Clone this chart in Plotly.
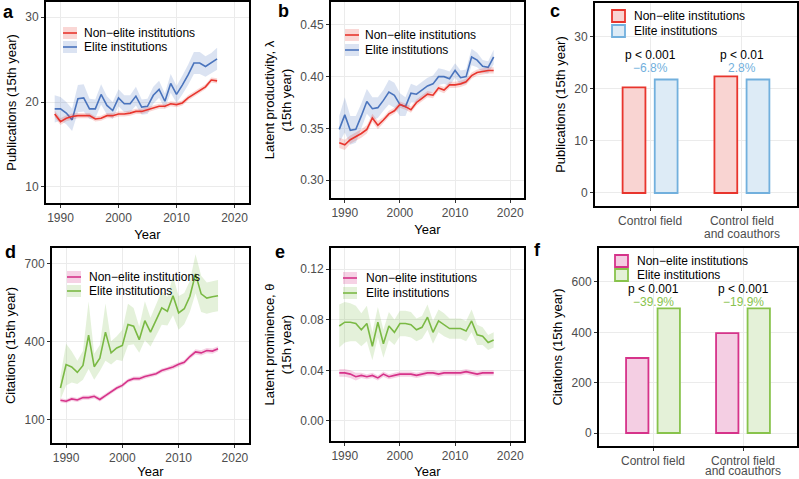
import plotly.graph_objects as go

W, H = 799, 479

years = list(range(1989, 2018))

# panel a: publications (15th year)
pub_nonelite = [18.6, 17.7, 18.1, 18.3, 18.4, 18.4, 18.4, 18.0, 18.1, 18.4, 18.4, 18.6, 18.6, 18.7, 18.9,
                18.9, 19.1, 19.3, 19.5, 19.5, 19.8, 19.7, 19.9, 20.5, 20.9, 21.3, 21.8, 22.6, 22.5]
pub_nonelite_ci = [0.4, 0.4, 0.35, 0.35, 0.3, 0.3, 0.3, 0.3, 0.3, 0.3, 0.3, 0.3, 0.3, 0.3, 0.3,
                   0.3, 0.3, 0.3, 0.3, 0.3, 0.3, 0.3, 0.3, 0.3, 0.3, 0.3, 0.3, 0.3, 0.3]
pub_elite = [19.2, 19.2, 18.7, 17.9, 20.4, 20.5, 19.2, 19.2, 20.9, 19.6, 19.0, 20.5, 19.8, 19.8, 20.7,
             19.4, 19.5, 20.8, 21.5, 20.1, 22.2, 20.9, 22.0, 23.2, 24.6, 24.6, 24.2, 24.6, 25.1]
pub_elite_ci = [1.6, 1.4, 1.3, 1.3, 1.6, 1.6, 1.2, 1.1, 1.2, 1.1, 1.0, 1.0, 1.0, 1.0, 1.1,
                0.9, 0.9, 1.0, 1.0, 0.9, 1.1, 1.0, 1.1, 1.2, 1.3, 1.3, 1.2, 1.2, 1.3]

# panel b: latent productivity
lam_nonelite = [0.336, 0.334, 0.339, 0.342, 0.345, 0.349, 0.360, 0.353, 0.358, 0.364, 0.367, 0.373, 0.371,
                0.368, 0.375, 0.379, 0.383, 0.382, 0.389, 0.387, 0.392, 0.392, 0.393, 0.395, 0.401, 0.404,
                0.405, 0.406, 0.406]
lam_nonelite_ci = [0.005, 0.005, 0.004, 0.004, 0.004, 0.004, 0.004, 0.004, 0.003, 0.003, 0.003, 0.003, 0.003,
                   0.003, 0.003, 0.003, 0.003, 0.003, 0.003, 0.003, 0.003, 0.003, 0.003, 0.003, 0.003, 0.003,
                   0.003, 0.003, 0.003]
lam_elite = [0.349, 0.363, 0.348, 0.349, 0.362, 0.376, 0.369, 0.370, 0.377, 0.385, 0.382, 0.373, 0.371,
             0.384, 0.383, 0.387, 0.391, 0.393, 0.400, 0.400, 0.398, 0.406, 0.399, 0.400, 0.419, 0.416,
             0.410, 0.409, 0.419]
lam_elite_ci = [0.013, 0.017, 0.014, 0.013, 0.012, 0.012, 0.011, 0.010, 0.010, 0.012, 0.012, 0.011, 0.009,
                0.009, 0.008, 0.008, 0.008, 0.008, 0.008, 0.007, 0.007, 0.007, 0.007, 0.007, 0.008, 0.007,
                0.006, 0.006, 0.007]

# panel d: citations (15th year)
cit_nonelite = [176, 172, 181, 177, 186, 186, 191, 179, 194, 210, 223, 233, 251, 259, 259,
                267, 272, 278, 290, 296, 304, 314, 322, 344, 362, 358, 367, 365, 374]
cit_nonelite_ci = [8, 8, 8, 8, 8, 8, 8, 8, 8, 8, 8, 8, 8, 8, 8,
                   8, 8, 8, 8, 8, 9, 9, 9, 9, 10, 10, 10, 10, 10]
cit_elite = [223, 313, 304, 283, 310, 426, 305, 338, 438, 358, 377, 387, 467, 461, 409,
             482, 438, 482, 531, 518, 578, 512, 528, 576, 662, 585, 569, 574, 578]
cit_elite_ci = [45, 80, 60, 45, 55, 130, 50, 50, 110, 45, 45, 60, 80, 70, 50,
                75, 55, 60, 65, 55, 75, 65, 60, 60, 75, 70, 60, 60, 60]

# panel e: latent prominence
th_nonelite = [0.038, 0.038, 0.037, 0.035, 0.036, 0.035, 0.036, 0.034, 0.037, 0.035, 0.036, 0.037, 0.037,
               0.037, 0.036, 0.037, 0.038, 0.038, 0.037, 0.038, 0.038, 0.038, 0.038, 0.039, 0.038, 0.037,
               0.038, 0.038, 0.038]
th_nonelite_ci = [0.003, 0.003, 0.003, 0.003, 0.002, 0.002, 0.002, 0.002, 0.002, 0.002, 0.002, 0.002, 0.002,
                  0.002, 0.002, 0.002, 0.002, 0.002, 0.002, 0.002, 0.002, 0.002, 0.002, 0.002, 0.002, 0.002,
                  0.002, 0.002, 0.002]
th_elite = [0.075, 0.078, 0.078, 0.077, 0.072, 0.077, 0.059, 0.078, 0.061, 0.075, 0.070, 0.077, 0.077,
            0.076, 0.072, 0.074, 0.082, 0.070, 0.079, 0.076, 0.073, 0.073, 0.073, 0.071, 0.079, 0.068,
            0.067, 0.062, 0.064]
th_elite_ci = [0.017, 0.016, 0.015, 0.014, 0.013, 0.014, 0.011, 0.012, 0.011, 0.011, 0.010, 0.010, 0.010,
               0.010, 0.009, 0.009, 0.010, 0.009, 0.009, 0.009, 0.008, 0.008, 0.008, 0.008, 0.009, 0.008,
               0.007, 0.006, 0.006]

# panels c and f: bars
bar_cats = ["Control field", "Control field and coauthors"]
bar_pub_nonelite = [20.3, 22.4]
bar_pub_elite = [21.8, 21.8]
bar_pub_p = ["p < 0.001", "p < 0.01"]
bar_pub_diff = ["−6.8%", "2.8%"]
bar_cit_nonelite = [298, 397]
bar_cit_elite = [495, 495]
bar_cit_p = ["p < 0.001", "p < 0.001"]
bar_cit_diff = ["−39.9%", "−19.9%"]

RED, RED_BAND = "#E8352D", "rgba(232,53,45,0.2)"
BLUE, BLUE_BAND = "#4A74BD", "rgba(74,116,189,0.2)"
MAG, MAG_BAND = "#D6338A", "rgba(214,51,138,0.22)"
GRN, GRN_BAND = "#7AB944", "rgba(122,185,68,0.2)"
LBLUE, LBLUE_FILL = "#72B0DD", "#DDEBF6"
RED_FILL = "#F9D4D2"
MAG_FILL = "#F4CEE3"
GRN2, GRN_FILL = "#88C34C", "#E4F1D8"

FONT = "Liberation Sans, Arial, sans-serif"


def px_x(v):
    return v / W


def px_y(v):
    return 1 - v / H


fig = go.Figure()


def add_band(ax, y, ci, color, band):
    lower = [a - b for a, b in zip(y, ci)]
    upper = [a + b for a, b in zip(y, ci)]
    xa, ya = ("x" + ax, "y" + ax) if ax != "1" else ("x", "y")
    fig.add_trace(go.Scatter(x=years, y=lower, mode="lines", line=dict(width=0), showlegend=False,
                             hoverinfo="skip", xaxis=xa, yaxis=ya))
    fig.add_trace(go.Scatter(x=years, y=upper, mode="lines", line=dict(width=0), fill="tonexty",
                             fillcolor=band, showlegend=False, hoverinfo="skip", xaxis=xa, yaxis=ya))
    fig.add_trace(go.Scatter(x=years, y=y, mode="lines", line=dict(color=color, width=1.6),
                             showlegend=False, xaxis=xa, yaxis=ya))


add_band("1", pub_elite, pub_elite_ci, BLUE, BLUE_BAND)
add_band("1", pub_nonelite, pub_nonelite_ci, RED, RED_BAND)
add_band("2", lam_elite, lam_elite_ci, BLUE, BLUE_BAND)
add_band("2", lam_nonelite, lam_nonelite_ci, RED, RED_BAND)
add_band("4", cit_elite, cit_elite_ci, GRN, GRN_BAND)
add_band("4", cit_nonelite, cit_nonelite_ci, MAG, MAG_BAND)
add_band("5", th_elite, th_elite_ci, GRN, GRN_BAND)
add_band("5", th_nonelite, th_nonelite_ci, MAG, MAG_BAND)

fig.add_trace(go.Bar(x=bar_cats, y=bar_pub_nonelite, marker=dict(color=RED_FILL, line=dict(color=RED, width=1.8)),
                     showlegend=False, xaxis="x3", yaxis="y3"))
fig.add_trace(go.Bar(x=bar_cats, y=bar_pub_elite, marker=dict(color=LBLUE_FILL, line=dict(color=LBLUE, width=1.8)),
                     showlegend=False, xaxis="x3", yaxis="y3"))
fig.add_trace(go.Bar(x=bar_cats, y=bar_cit_nonelite, marker=dict(color=MAG_FILL, line=dict(color=MAG, width=1.8)),
                     showlegend=False, xaxis="x6", yaxis="y6"))
fig.add_trace(go.Bar(x=bar_cats, y=bar_cit_elite, marker=dict(color=GRN_FILL, line=dict(color=GRN2, width=1.8)),
                     showlegend=False, xaxis="x6", yaxis="y6"))

# panel boxes in pixels: left, right, top, bottom
boxes = {
    "1": (46, 249, 2, 203),
    "2": (331, 524, 2, 198),
    "3": (595, 797, 3, 206),
    "4": (52, 249, 248, 443),
    "5": (331, 524, 248, 441),
    "6": (599, 797, 248, 446),
}
yranges = {"1": [8.1, 31.8], "2": [0.2826, 0.4722], "3": [-2.5, 36.5],
           "4": [11.5, 761.5], "5": [-0.0158, 0.1366], "6": [-51.6, 735]}
yticks = {"1": [10, 20, 30], "2": [0.30, 0.35, 0.40, 0.45], "3": [0, 10, 20, 30],
          "4": [100, 400, 700], "5": [0, 0.04, 0.08, 0.12], "6": [0, 200, 400, 600]}
yfmt = {"1": "", "2": ".2f", "3": "", "4": "", "5": ".2f", "6": ""}
ytitles = {"1": "Publications (15th year)", "2": "Latent productivity, λ<br>(15th year)",
           "3": "Publications (15th year)", "4": "Citations (15th year)",
           "5": "Latent prominence, θ<br>(15h year)", "6": "Citations (15th year)"}

layout = dict(width=W, height=H, margin=dict(l=0, r=0, t=0, b=0), plot_bgcolor="white",
              paper_bgcolor="white", font=dict(family=FONT, size=12, color="black"),
              barmode="group", bargap=0.3, bargroupgap=0.29, showlegend=False)

for k, (l, r, t, b) in boxes.items():
    xk = "xaxis" if k == "1" else "xaxis" + k
    yk = "yaxis" if k == "1" else "yaxis" + k
    anchor_x = "x" if k == "1" else "x" + k
    anchor_y = "y" if k == "1" else "y" + k
    common = dict(showline=True, linecolor="black", linewidth=2, mirror=True, ticks="outside",
                  ticklen=3, tickcolor="#333333", tickwidth=1, gridcolor="#ebebeb", gridwidth=1,
                  zeroline=False, tickfont=dict(size=12, color="#4d4d4d"), automargin=False)
    xa = dict(common, domain=[px_x(l), px_x(r)], anchor=anchor_y)
    if k in ("3", "6"):
        # only the first line of each category goes on the tick, the second is an annotation below
        xa.update(range=[-0.6, 1.6], tickvals=bar_cats, ticktext=["Control field", "Control field"])
    else:
        xa.update(range=[1987.5, 2022.5], tickvals=[1990, 2000, 2010, 2020],
                  title=dict(text="Year", font=dict(size=13), standoff=5))
    ya = dict(common, domain=[px_y(b), px_y(t)], anchor=anchor_x, range=yranges[k],
              tickvals=yticks[k], tickformat=yfmt[k],
              title=dict(text=ytitles[k], font=dict(size=13), standoff=6))
    layout[xk] = xa
    layout[yk] = ya

fig.update_layout(**layout)

# second line of the second bar category
for xr, ty in (("x3", 234), ("x6", 471)):
    fig.add_annotation(x=bar_cats[1], y=px_y(ty), xref=xr, yref="paper", text="and coauthors",
                       showarrow=False, xanchor="center", yanchor="middle",
                       font=dict(size=12, color="#4d4d4d"))

# panel letters
letters = [("a", 8, 12), ("b", 283, 11), ("c", 555, 11), ("d", 10, 252), ("e", 280, 252), ("f", 537, 250)]
for txt, lx, ly in letters:
    fig.add_annotation(x=px_x(lx), y=px_y(ly), xref="paper", yref="paper", text="<b>%s</b>" % txt,
                       showarrow=False, xanchor="center", yanchor="middle", font=dict(size=18, color="black"))

# legends drawn by hand (ribbon keys and bar keys)
legend_specs = [
    (63, 82, (33, 47), [(RED, RED_BAND), (BLUE, BLUE_BAND)], "line"),
    (345, 363, (35, 50), [(RED, RED_BAND), (BLUE, BLUE_BAND)], "line"),
    (612, 632, (16, 31), [(RED, RED_FILL), (LBLUE, LBLUE_FILL)], "box"),
    (67, 87, (277, 291), [(MAG, MAG_BAND), (GRN, GRN_BAND)], "line"),
    (343, 364, (278, 293), [(MAG, MAG_BAND), (GRN, GRN_BAND)], "line"),
    (615, 635, (261, 275), [(MAG, MAG_FILL), (GRN2, GRN_FILL)], "box"),
]
labels = ["Non−elite institutions", "Elite institutions"]
for kx, tx, rows, cols, style in legend_specs:
    for ry, (lc, fc), lab in zip(rows, cols, labels):
        if style == "line":
            fig.add_shape(type="rect", xref="paper", yref="paper", x0=px_x(kx), x1=px_x(kx + 14),
                          y0=px_y(ry + 6), y1=px_y(ry - 6), fillcolor=fc, line=dict(width=0))
            fig.add_shape(type="line", xref="paper", yref="paper", x0=px_x(kx), x1=px_x(kx + 14),
                          y0=px_y(ry), y1=px_y(ry), line=dict(color=lc, width=1.6))
        else:
            fig.add_shape(type="rect", xref="paper", yref="paper", x0=px_x(kx), x1=px_x(kx + 13),
                          y0=px_y(ry + 6), y1=px_y(ry - 6), fillcolor=fc, line=dict(color=lc, width=1.8))
        fig.add_annotation(x=px_x(tx), y=px_y(ry), xref="paper", yref="paper", text=lab, showarrow=False,
                           xanchor="left", yanchor="middle", font=dict(size=12, color="black"))

# p-values and percentage differences above the bars
for i, cat in enumerate(bar_cats):
    fig.add_annotation(x=cat, y=26.5, xref="x3", yref="y3", text=bar_pub_p[i], showarrow=False,
                       yanchor="middle", font=dict(size=12, color="black"))
    fig.add_annotation(x=cat, y=24.0, xref="x3", yref="y3", text=bar_pub_diff[i], showarrow=False,
                       yanchor="middle", font=dict(size=12, color=LBLUE))
    fig.add_annotation(x=cat, y=574, xref="x6", yref="y6", text=bar_cit_p[i], showarrow=False,
                       yanchor="middle", font=dict(size=12, color="black"))
    fig.add_annotation(x=cat, y=520, xref="x6", yref="y6", text=bar_cit_diff[i], showarrow=False,
                       yanchor="middle", font=dict(size=12, color=GRN2))

fig.write_html("out.html", config={"displayModeBar": False},
               post_script="document.body.style.margin='0px';")
